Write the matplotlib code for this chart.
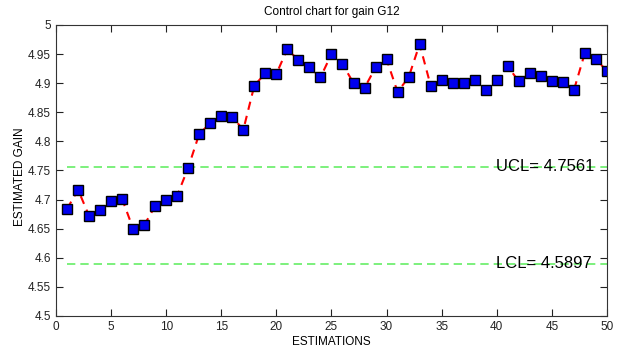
import numpy as np
import matplotlib.pyplot as plt

plt.rcParams['font.family'] = ['Liberation Sans', 'DejaVu Sans']

estimation = np.arange(1, 51)
gain = [4.684, 4.717, 4.672, 4.682, 4.697, 4.701, 4.650, 4.656, 4.689, 4.700,
        4.707, 4.755, 4.813, 4.831, 4.844, 4.842, 4.820, 4.896, 4.917, 4.916,
        4.959, 4.939, 4.927, 4.910, 4.950, 4.933, 4.900, 4.892, 4.927, 4.941,
        4.885, 4.910, 4.967, 4.896, 4.905, 4.901, 4.900, 4.905, 4.889, 4.906,
        4.929, 4.903, 4.917, 4.912, 4.904, 4.902, 4.888, 4.952, 4.941, 4.921]
ucl = 4.7561
lcl = 4.5897

fig = plt.figure(figsize=(6.19, 3.52), dpi=100)
ax = fig.add_axes([0.0905, 0.1023, 0.89, 0.8267])

# control limits
ax.plot([1, 50], [ucl, ucl], '--', color='#66ee66', lw=1.2, dashes=(5, 3))
ax.plot([1, 50], [lcl, lcl], '--', color='#66ee66', lw=1.2, dashes=(5, 3))

ax.plot(estimation, gain, '--', color='red', lw=1.5, dashes=(4, 3))
ax.plot(estimation, gain, 's', markerfacecolor='#0000ee', markeredgecolor='black',
        markersize=7, markeredgewidth=1.0, linestyle='none')

ax.text(39.9, ucl, 'UCL= %.4f' % ucl, fontsize=12, va='center', ha='left')
ax.text(39.9, lcl, 'LCL= %.4f' % lcl, fontsize=12, va='center', ha='left')

ax.set_xlim(0, 50)
ax.set_ylim(4.5, 5)
ax.set_xticks(np.arange(0, 51, 5))
ax.set_yticks(np.arange(4.5, 5.001, 0.05))
ax.set_yticklabels(['4.5', '4.55', '4.6', '4.65', '4.7', '4.75', '4.8',
                    '4.85', '4.9', '4.95', '5'])
ax.tick_params(direction='in', top=True, right=True, length=5, labelsize=8.5,
               colors='#222222')
for s in ax.spines.values():
    s.set_color('#333333')

ax.set_title('Control chart for gain G12', fontsize=8.5, pad=7)
ax.set_xlabel('ESTIMATIONS', fontsize=8.5, labelpad=2)
ax.set_ylabel('ESTIMATED GAIN', fontsize=8.5)
ax.yaxis.set_label_coords(-0.055, 0.48)

fig.savefig('out.png', dpi=100)
